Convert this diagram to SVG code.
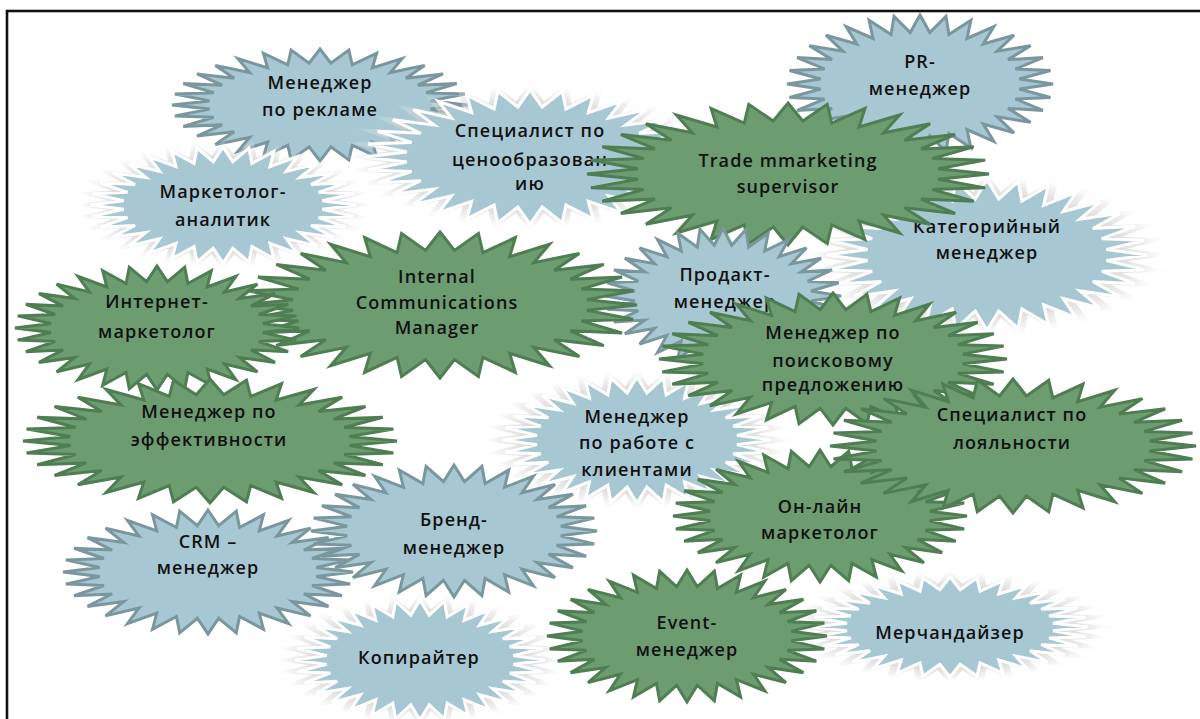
<svg xmlns="http://www.w3.org/2000/svg" xmlns:xlink="http://www.w3.org/1999/xlink" width="1200" height="719" viewBox="0 0 1200 719">
<style>
.b{fill:#a7c8d3;stroke:#7a979e;stroke-width:3}
.g{fill:#6d9c70;stroke:#4e7e52;stroke-width:3}
.s{fill:#a7c8d3;stroke:#ffffff;stroke-width:3}
.h{fill:url(#glow);stroke:none}
.t{font-family:"Open Sans","DejaVu Sans",sans-serif;font-size:18px;font-weight:600;fill:#111;text-anchor:middle;letter-spacing:1.1px}
</style>
<defs>
<radialGradient id="glow" cx="0.5" cy="0.5" r="0.5">
<stop offset="0.6" stop-color="#bdbdbd" stop-opacity="0.8"/>
<stop offset="0.85" stop-color="#dcdcdc" stop-opacity="0.45"/>
<stop offset="1" stop-color="#ffffff" stop-opacity="0"/>
</radialGradient>
<path id="star" vector-effect="non-scaling-stroke" stroke-linejoin="miter" d="M0,-100 L7.35,-74.64 L19.51,-98.08 L21.77,-71.77 L38.27,-92.39 L35.35,-66.14 L55.56,-83.15 L47.58,-57.98 L70.71,-70.71 L57.98,-47.58 L83.15,-55.56 L66.14,-35.35 L92.39,-38.27 L71.77,-21.77 L98.08,-19.51 L74.64,-7.35 L100,0 L74.64,7.35 L98.08,19.51 L71.77,21.77 L92.39,38.27 L66.14,35.35 L83.15,55.56 L57.98,47.58 L70.71,70.71 L47.58,57.98 L55.56,83.15 L35.35,66.14 L38.27,92.39 L21.77,71.77 L19.51,98.08 L7.35,74.64 L0,100 L-7.35,74.64 L-19.51,98.08 L-21.77,71.77 L-38.27,92.39 L-35.35,66.14 L-55.56,83.15 L-47.58,57.98 L-70.71,70.71 L-57.98,47.58 L-83.15,55.56 L-66.14,35.35 L-92.39,38.27 L-71.77,21.77 L-98.08,19.51 L-74.64,7.35 L-100,0 L-74.64,-7.35 L-98.08,-19.51 L-71.77,-21.77 L-92.39,-38.27 L-66.14,-35.35 L-83.15,-55.56 L-57.98,-47.58 L-70.71,-70.71 L-47.58,-57.98 L-55.56,-83.15 L-35.35,-66.14 L-38.27,-92.39 L-21.77,-71.77 L-19.51,-98.08 L-7.35,-74.64 Z"/>
</defs>
<rect x="0" y="0" width="1200" height="719" fill="#ffffff"/>
<rect id="frame" x="7" y="11" width="1260" height="800" fill="none" stroke="#111" stroke-width="2.6"/>
<g id="connectors"/>

<g id="n-reklama">
<use href="#star" class="b" transform="translate(320,105) scale(1.48,0.56)"/>
<text class="t" x="320" y="89">Менеджер</text>
<text class="t" x="320" y="116">по рекламе</text>
</g>
<g id="n-pr">
<use href="#star" class="b" transform="translate(920,84) scale(1.33,0.69)"/>
<text class="t" x="920" y="68">PR-</text>
<text class="t" x="920" y="95">менеджер</text>
</g>
<g id="n-ceno">
<use href="#star" class="h" transform="translate(530,157) scale(1.9,0.75)"/>
<use href="#star" class="s" transform="translate(530,157) scale(1.65,0.67)"/>
<text class="t" x="530" y="137">Специалист по</text>
<text class="t" x="530" y="166">ценообразован</text>
<text class="t" x="530" y="190">ию</text>
</g>
<g id="n-analitik">
<use href="#star" class="h" transform="translate(223,205) scale(1.55,0.66)"/>
<use href="#star" class="s" transform="translate(223,205) scale(1.33,0.58)"/>
<text class="t" x="223" y="198">Маркетолог-</text>
<text class="t" x="223" y="226">аналитик</text>
</g>
<g id="n-kategor">
<use href="#star" class="h" transform="translate(987,255) scale(1.88,0.84)"/>
<use href="#star" class="s" transform="translate(987,255) scale(1.6,0.75)"/>
<text class="t" x="987" y="233">Категорийный</text>
<text class="t" x="987" y="259">менеджер</text>
</g>
<g id="n-trade">
<use href="#star" class="g" transform="translate(788,174) scale(2.01,0.71)"/>
<text class="t" x="788" y="167">Trade mmarketing</text>
<text class="t" x="788" y="193">supervisor</text>
</g>
<g id="n-prodakt">
<use href="#star" class="b" transform="translate(723,296) scale(1.18,0.68)"/>
<text class="t" x="725" y="281">Продакт-</text>
<text class="t" x="725" y="308">менеджер</text>
</g>
<g id="n-internal">
<use href="#star" class="g" transform="translate(440,305) scale(1.97,0.73)"/>
<text class="t" x="437" y="283">Internal</text>
<text class="t" x="437" y="309">Communications</text>
<text class="t" x="437" y="334">Manager</text>
</g>
<g id="n-internet">
<use href="#star" class="g" transform="translate(157,328) scale(1.42,0.62)"/>
<text class="t" x="157" y="308">Интернет-</text>
<text class="t" x="157" y="338">маркетолог</text>
</g>
<g id="n-effekt">
<use href="#star" class="g" transform="translate(210,441) scale(1.87,0.62)"/>
<text class="t" x="209" y="418">Менеджер по</text>
<text class="t" x="209" y="446">эффективности</text>
</g>
<g id="n-klienty">
<use href="#star" class="h" transform="translate(637,440) scale(1.6,0.72)"/>
<use href="#star" class="s" transform="translate(637,440) scale(1.34,0.63)"/>
<text class="t" x="637" y="423">Менеджер</text>
<text class="t" x="637" y="449">по работе с</text>
<text class="t" x="637" y="476">клиентами</text>
</g>
<g id="n-poisk">
<use href="#star" class="g" transform="translate(833,359) scale(1.74,0.66)"/>
<text class="t" x="833" y="339">Менеджер по</text>
<text class="t" x="833" y="367">поисковому</text>
<text class="t" x="833" y="391">предложению</text>
</g>
<g id="n-online">
<use href="#star" class="g" transform="translate(820,516) scale(1.47,0.66)"/>
<text class="t" x="820" y="513">Он-лайн</text>
<text class="t" x="820" y="539">маркетолог</text>
</g>
<g id="n-loyal">
<use href="#star" class="g" transform="translate(1013,446) scale(1.83,0.67)"/>
<text class="t" x="1012" y="421">Специалист по</text>
<text class="t" x="1012" y="449">лояльности</text>
</g>
<g id="n-crm">
<use href="#star" class="b" transform="translate(208,572) scale(1.45,0.62)"/>
<text class="t" x="208" y="548">CRM –</text>
<text class="t" x="208" y="574">менеджер</text>
</g>
<g id="n-brend">
<use href="#star" class="b" transform="translate(454,531) scale(1.43,0.66)"/>
<text class="t" x="454" y="526">Бренд-</text>
<text class="t" x="454" y="554">менеджер</text>
</g>
<g id="n-kopi">
<use href="#star" class="h" transform="translate(420,660) scale(1.5,0.68)"/>
<use href="#star" class="s" transform="translate(420,660) scale(1.25,0.6)"/>
<text class="t" x="419" y="664">Копирайтер</text>
</g>
<g id="n-merch">
<use href="#star" class="h" transform="translate(950,627) scale(1.68,0.58)"/>
<use href="#star" class="s" transform="translate(950,627) scale(1.38,0.5)"/>
<text class="t" x="950" y="639">Мерчандайзер</text>
</g>
<g id="n-event">
<use href="#star" class="g" transform="translate(687,636) scale(1.4,0.66)"/>
<text class="t" x="687" y="629">Event-</text>
<text class="t" x="687" y="656">менеджер</text>
</g>
</svg>
